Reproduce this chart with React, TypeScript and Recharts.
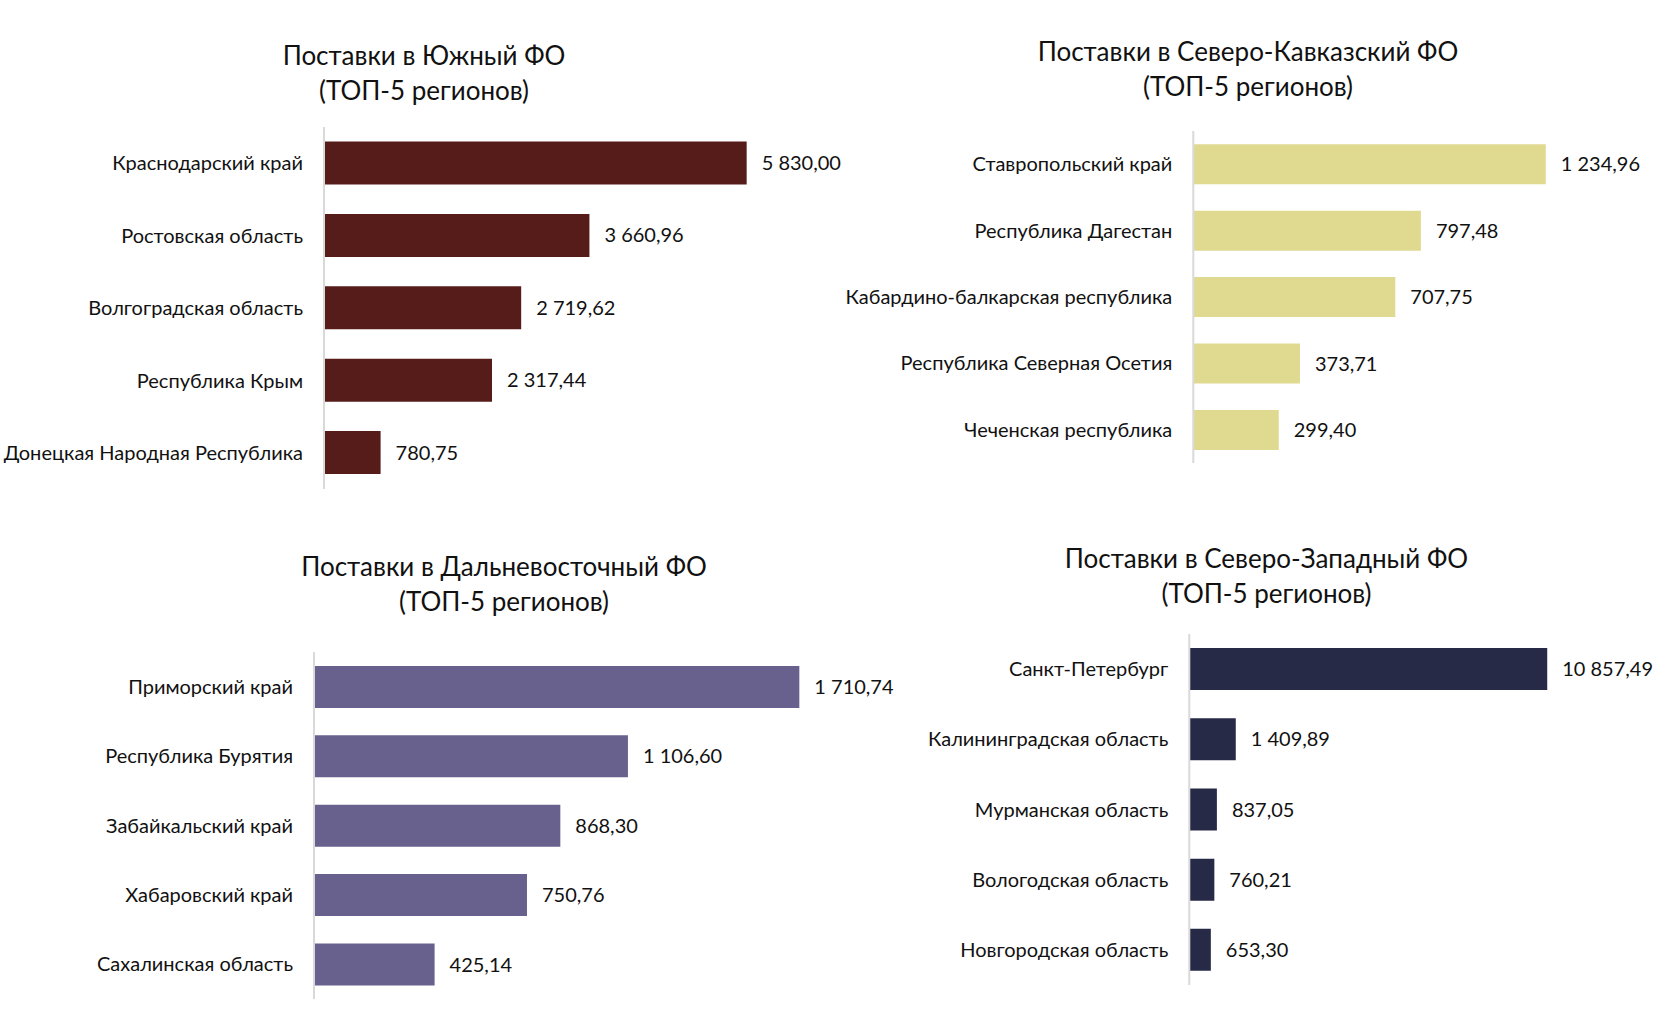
import React from 'react';
import { BarChart, Bar, XAxis, YAxis, LabelList } from 'recharts';

// Южный ФО
const southRegions = [
  'Краснодарский край',
  'Ростовская область',
  'Волгоградская область',
  'Республика Крым',
  'Донецкая Народная Республика',
];
const southValues = [5830.0, 3660.96, 2719.62, 2317.44, 780.75];

// Северо-Кавказский ФО
const caucasusRegions = [
  'Ставропольский край',
  'Республика Дагестан',
  'Кабардино-балкарская республика',
  'Республика Северная Осетия',
  'Чеченская республика',
];
const caucasusValues = [1234.96, 797.48, 707.75, 373.71, 299.4];

// Дальневосточный ФО
const farEastRegions = [
  'Приморский край',
  'Республика Бурятия',
  'Забайкальский край',
  'Хабаровский край',
  'Сахалинская область',
];
const farEastValues = [1710.74, 1106.6, 868.3, 750.76, 425.14];

// Северо-Западный ФО
const northWestRegions = [
  'Санкт-Петербург',
  'Калининградская область',
  'Мурманская область',
  'Вологодская область',
  'Новгородская область',
];
const northWestValues = [10857.49, 1409.89, 837.05, 760.21, 653.3];

const titleSecondLine = '(ТОП-5 регионов)';

const FONT = 'Lato, "Noto Sans", sans-serif';
const TEXT = '#111111';

const toRows = (names: string[], values: number[]) =>
  names.map((name, i) => ({ name, value: values[i] }));

// "10 857,49" style: space-grouped thousands, comma decimal
const formatValue = (v: number) => {
  const [intPart, decPart] = Number(v).toFixed(2).split('.');
  return intPart.replace(/\B(?=(\d{3})+(?!\d))/g, ' ') + ',' + decPart;
};

type PanelProps = {
  names: string[];
  values: number[];
  color: string;
  domainMax: number;
  left: number;
  top: number;
  height: number;
  axisWidth: number;
  plotWidth: number;
  rightMargin: number;
};

function RegionPanel(p: PanelProps) {
  const data = toRows(p.names, p.values);
  const width = p.axisWidth + p.plotWidth + p.rightMargin;
  return (
    <div style={{ position: 'absolute', left: p.left, top: p.top }}>
      <BarChart
        width={width}
        height={p.height}
        data={data}
        layout="vertical"
        margin={{ top: 0, right: p.rightMargin, bottom: 0, left: 0 }}
        barCategoryGap="20%"
      >
        <XAxis type="number" hide domain={[0, p.domainMax]} />
        <YAxis
          type="category"
          dataKey="name"
          width={p.axisWidth}
          tickLine={false}
          tickSize={0}
          tickMargin={21}
          axisLine={{ stroke: '#d9d9d9', strokeWidth: 2 }}
          tick={{ fill: TEXT, fontSize: 20, fontFamily: FONT }}
          interval={0}
        />
        <Bar dataKey="value" fill={p.color} isAnimationActive={false}>
          <LabelList
            dataKey="value"
            position="right"
            offset={15}
            formatter={(v: any) => formatValue(v)}
            style={{ fill: TEXT, fontSize: 20, fontFamily: FONT }}
          />
        </Bar>
      </BarChart>
    </div>
  );
}

const titles = [
  { text: 'Поставки в Южный ФО', x: 424, y: 65.3 },
  { text: 'Поставки в Северо-Кавказский ФО', x: 1248, y: 60.5 },
  { text: 'Поставки в Дальневосточный ФО', x: 504, y: 576 },
  { text: 'Поставки в Северо-Западный ФО', x: 1266.5, y: 568 },
];

export default function App() {
  return (
    <div
      style={{
        position: 'absolute',
        left: 0,
        top: 0,
        width: 1680,
        height: 1021,
        background: '#ffffff',
        overflow: 'hidden',
      }}
    >
      <svg
        width={1680}
        height={1021}
        style={{ position: 'absolute', left: 0, top: 0, pointerEvents: 'none' }}
      >
        {titles.map((t) => (
          <g key={t.text} fontFamily={FONT} fontSize={26} fill={TEXT} textAnchor="middle">
            <text x={t.x} y={t.y}>{t.text}</text>
            <text x={t.x} y={t.y + 35}>{titleSecondLine}</text>
          </g>
        ))}
      </svg>

      <RegionPanel
        names={southRegions}
        values={southValues}
        color="#561c1a"
        domainMax={7000}
        left={0}
        top={127}
        height={362}
        axisWidth={324}
        plotWidth={507.5}
        rightMargin={20}
      />
      <RegionPanel
        names={caucasusRegions}
        values={caucasusValues}
        color="#e0da91"
        domainMax={1400}
        left={840}
        top={131.3}
        height={332}
        axisWidth={353.3}
        plotWidth={399.6}
        rightMargin={70}
      />
      <RegionPanel
        names={farEastRegions}
        values={farEastValues}
        color="#69618d"
        domainMax={2000}
        left={0}
        top={652}
        height={347}
        axisWidth={314}
        plotWidth={567.4}
        rightMargin={20}
      />
      <RegionPanel
        names={northWestRegions}
        values={northWestValues}
        color="#262a47"
        domainMax={12000}
        left={900}
        top={633.5}
        height={351}
        axisWidth={289.3}
        plotWidth={395.6}
        rightMargin={80}
      />
    </div>
  );
}
